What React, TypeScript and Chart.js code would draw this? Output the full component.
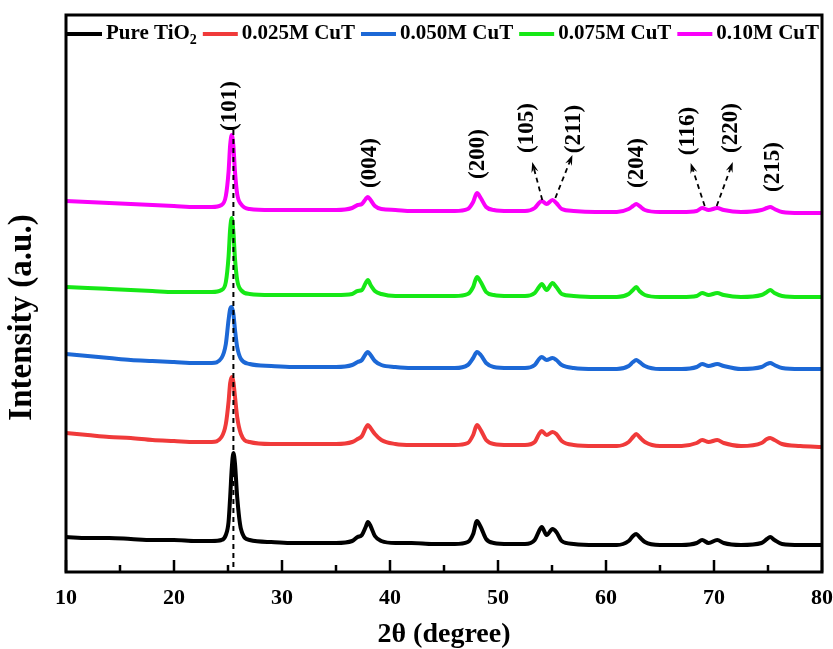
import React, { useEffect, useRef } from 'react';
import { Chart, registerables } from 'chart.js';

Chart.register(...registerables);

// ---------------- data ----------------
const TWO_THETA = [
  10, 12, 14, 16, 18, 20, 22, 23.5, 24.4, 24.8, 25.05, 25.2, 25.35, 25.5, 25.65, 25.85, 26.2, 27,
  29, 31, 33, 35, 36.5, 37.0, 37.4, 37.75, 37.95, 38.2, 38.6, 39.2, 40.5, 42, 44, 46, 47.2, 47.7,
  48.05, 48.4, 48.9, 49.6, 51, 52.5, 53.4, 53.8, 54.05, 54.5, 55.05, 55.4, 55.9, 57, 59, 61, 62.1,
  62.5, 62.8, 63.1, 63.6, 65, 67, 68.4, 68.9, 69.5, 70.3, 70.9, 72.5, 74.4, 74.9, 75.2, 75.6, 76.3,
  78, 80,
];

// offset intensities (a.u.), one value per 2θ point
const PURE_TIO2 = [
  35, 34, 34, 33, 32, 32, 31, 31, 32, 37, 50, 75, 104, 119, 108, 75, 43, 32,
  30, 29, 29, 29, 31, 35, 37, 45, 50, 46, 36, 31, 29, 29, 28, 28, 30, 38,
  51, 45, 33, 29, 28, 28, 32, 41, 45, 37, 43, 40, 31, 28, 27, 27, 31,
  36, 38, 35, 30, 27, 27, 29, 32, 29, 32, 29, 27, 29, 33, 35, 32, 28,
  27, 27,
];
const CUT_0025 = [
  139, 137, 135, 134, 132, 131, 130, 130, 135, 148, 170, 189, 195, 190, 175, 155, 138, 130,
  128, 128, 128, 128, 130, 133, 136, 144, 147, 144, 138, 132, 128, 127, 127, 127, 129, 137,
  147, 142, 132, 128, 127, 127, 130, 138, 141, 137, 140, 138, 131, 127, 126, 126, 130,
  135, 138, 135, 130, 126, 126, 129, 132, 130, 132, 129, 126, 129, 133, 134, 132, 128,
  126, 125,
];
const CUT_0050 = [
  218, 216, 214, 212, 211, 210, 209, 209, 214, 228, 252, 263, 265, 258, 242, 225, 213, 208,
  206, 205, 205, 205, 207, 210, 212, 218, 220, 217, 211, 207, 205, 204, 204, 204, 207, 214,
  220, 217, 209, 205, 204, 204, 207, 213, 215, 212, 214, 212, 207, 204, 203, 203, 206,
  210, 212, 210, 206, 203, 203, 205, 208, 206, 208, 206, 203, 205, 208, 209, 207, 204,
  203, 203,
];
const CUT_0075 = [
  285, 284, 283, 282, 281, 280, 280, 280, 282, 290, 315, 343, 354, 340, 313, 292, 282, 278,
  277, 277, 277, 277, 278, 281, 282, 289, 292, 287, 281, 278, 276, 276, 276, 276, 278, 285,
  295, 290, 280, 277, 276, 276, 279, 285, 288, 282, 289, 285, 278, 276, 275, 275, 278,
  282, 285, 281, 277, 275, 275, 276, 279, 277, 279, 277, 275, 277, 280, 282, 279, 276,
  275, 275,
];
const CUT_0100 = [
  371, 370, 369, 368, 367, 366, 365, 365, 367, 376, 400, 427, 437, 426, 400, 378, 368, 363,
  362, 362, 362, 362, 364, 367, 368, 373, 375, 372, 366, 363, 362, 361, 361, 361, 363, 370,
  379, 374, 365, 362, 361, 361, 364, 369, 371, 368, 372, 369, 363, 361, 360, 360, 363,
  366, 368, 366, 362, 360, 360, 361, 364, 362, 364, 362, 360, 362, 364, 365, 363, 360,
  359, 359,
];

const SERIES_LABELS = ['Pure TiO₂', '0.025M CuT', '0.050M CuT', '0.075M CuT', '0.10M CuT'];
const SERIES_COLORS = ['#000000', 'rgb(240,58,58)', 'rgb(28,104,214)', 'rgb(22,232,22)', 'rgb(250,0,250)'];

const X_MIN = 10;
const X_MAX = 80;
const Y_MIN = 0;
const Y_MAX = 557;
const X_MAJOR_TICKS = [10, 20, 30, 40, 50, 60, 70, 80];
const X_MINOR_TICKS = [15, 25, 35, 45, 55, 65, 75];

const X_TITLE = '2θ (degree)';
const Y_TITLE = 'Intensity (a.u.)';

// peak (hkl) annotations
const PEAK_LABELS = ['(101)', '(004)', '(200)', '(105)', '(211)', '(204)', '(116)', '(220)', '(215)'];
const PEAK_LABEL_X = [25.23, 38.13, 48.16, 52.71, 57.07, 62.83, 67.56, 71.55, 75.45];
const PEAK_LABEL_Y = [466, 409, 418, 444, 443, 409, 441, 444, 405];

// dashed arrows from peaks to labels
const ARROW_FROM_X = [54.1, 55.31, 69.14, 70.25];
const ARROW_FROM_Y = [372, 374, 366, 366];
const ARROW_TO_X = [53.17, 56.89, 67.84, 71.74];
const ARROW_TO_Y = [410, 417, 409, 410];

// dashed reference line through (101)
const REF_LINE_X = 25.5;
const REF_LINE_TOP = 442;

const FONT = "'Liberation Serif', 'Times New Roman', Times, serif";

function drawRich(ctx: CanvasRenderingContext2D, text: string, x: number, y: number, size: number) {
  const parts = text.split('₂');
  let cx = x;
  parts.forEach((p, i) => {
    ctx.font = `bold ${size}px ${FONT}`;
    ctx.fillText(p, cx, y);
    cx += ctx.measureText(p).width;
    if (i < parts.length - 1) {
      ctx.font = `bold ${Math.round(size * 0.68)}px ${FONT}`;
      ctx.fillText('2', cx, y + size * 0.3);
      cx += ctx.measureText('2').width;
    }
  });
  return cx;
}

const decorPlugin = {
  id: 'decor',
  afterDatasetsDraw(chart: any) {
    const { ctx, chartArea: ca, scales } = chart;
    const xs = scales.x;
    const ys = scales.y;
    ctx.save();

    // reference dashed line
    ctx.strokeStyle = '#000';
    ctx.lineWidth = 2;
    ctx.setLineDash([5, 4]);
    ctx.beginPath();
    ctx.moveTo(xs.getPixelForValue(REF_LINE_X), ys.getPixelForValue(REF_LINE_TOP));
    ctx.lineTo(xs.getPixelForValue(REF_LINE_X), ys.getPixelForValue(Y_MIN));
    ctx.stroke();

    // arrows
    for (let i = 0; i < ARROW_FROM_X.length; i++) {
      const x0 = xs.getPixelForValue(ARROW_FROM_X[i]);
      const y0 = ys.getPixelForValue(ARROW_FROM_Y[i]);
      const x1 = xs.getPixelForValue(ARROW_TO_X[i]);
      const y1 = ys.getPixelForValue(ARROW_TO_Y[i]);
      const ang = Math.atan2(y1 - y0, x1 - x0);
      ctx.setLineDash([5, 4]);
      ctx.lineWidth = 1.8;
      ctx.beginPath();
      ctx.moveTo(x0, y0);
      ctx.lineTo(x1 - Math.cos(ang) * 6, y1 - Math.sin(ang) * 6);
      ctx.stroke();
      ctx.setLineDash([]);
      const L = 11;
      const W = 0.33;
      ctx.beginPath();
      ctx.moveTo(x1, y1);
      ctx.lineTo(x1 - L * Math.cos(ang - W), y1 - L * Math.sin(ang - W));
      ctx.lineTo(x1 - 0.6 * L * Math.cos(ang), y1 - 0.6 * L * Math.sin(ang));
      ctx.lineTo(x1 - L * Math.cos(ang + W), y1 - L * Math.sin(ang + W));
      ctx.closePath();
      ctx.fillStyle = '#000';
      ctx.fill();
    }
    ctx.setLineDash([]);

    // peak labels (rotated)
    ctx.fillStyle = '#000';
    ctx.font = `bold 23px ${FONT}`;
    ctx.textAlign = 'center';
    ctx.textBaseline = 'middle';
    PEAK_LABELS.forEach((t, i) => {
      ctx.save();
      ctx.translate(xs.getPixelForValue(PEAK_LABEL_X[i]), ys.getPixelForValue(PEAK_LABEL_Y[i]));
      ctx.rotate(-Math.PI / 2);
      ctx.fillText(t, 0, 0);
      ctx.restore();
    });

    // inward ticks
    ctx.strokeStyle = '#000';
    ctx.lineWidth = 2.5;
    X_MAJOR_TICKS.forEach((v) => {
      const px = xs.getPixelForValue(v);
      ctx.beginPath();
      ctx.moveTo(px, ca.bottom);
      ctx.lineTo(px, ca.bottom - 12);
      ctx.stroke();
    });
    X_MINOR_TICKS.forEach((v) => {
      const px = xs.getPixelForValue(v);
      ctx.beginPath();
      ctx.moveTo(px, ca.bottom);
      ctx.lineTo(px, ca.bottom - 7);
      ctx.stroke();
    });

    // frame
    ctx.lineWidth = 3;
    ctx.strokeRect(ca.left, ca.top, ca.right - ca.left, ca.bottom - ca.top);

    // legend inside the frame
    ctx.textAlign = 'left';
    ctx.textBaseline = 'middle';
    const ly = ca.top + 19;
    let lx = ca.left + 1;
    chart.data.datasets.forEach((ds: any) => {
      ctx.strokeStyle = ds.borderColor;
      ctx.lineWidth = 4;
      ctx.beginPath();
      ctx.moveTo(lx, ly);
      ctx.lineTo(lx + 35, ly);
      ctx.stroke();
      lx += 39;
      ctx.fillStyle = '#000';
      lx = drawRich(ctx, ds.label, lx, ly, 21) + 6;
    });

    // y title
    ctx.save();
    ctx.translate(22, (ca.top + ca.bottom) / 2 + 24);
    ctx.rotate(-Math.PI / 2);
    ctx.textAlign = 'center';
    ctx.font = `bold 33px ${FONT}`;
    ctx.fillStyle = '#000';
    ctx.fillText(Y_TITLE, 0, 0);
    ctx.restore();

    ctx.restore();
  },
};

export default function App() {
  const ref = useRef<HTMLCanvasElement | null>(null);

  useEffect(() => {
    if (!ref.current) return;
    const seriesValues = [PURE_TIO2, CUT_0025, CUT_0050, CUT_0075, CUT_0100];
    const chart = new Chart(ref.current, {
      type: 'line',
      data: {
        datasets: seriesValues.map((vals, i) => ({
          label: SERIES_LABELS[i],
          data: TWO_THETA.map((x, j) => ({ x, y: vals[j] })),
          borderColor: SERIES_COLORS[i],
          backgroundColor: SERIES_COLORS[i],
          borderWidth: 4,
          pointRadius: 0,
          cubicInterpolationMode: 'monotone',
          fill: false,
        })),
      },
      options: {
        animation: false,
        responsive: false,
        maintainAspectRatio: false,
        devicePixelRatio: 1,
        layout: { padding: { left: 0, right: 11, top: 15, bottom: 0 } },
        plugins: {
          legend: { display: false },
          tooltip: { enabled: false },
        },
        scales: {
          x: {
            type: 'linear',
            min: X_MIN,
            max: X_MAX,
            grid: { display: false, drawTicks: false },
            border: { display: false },
            afterBuildTicks: (s: any) => {
              s.ticks = X_MAJOR_TICKS.map((v) => ({ value: v }));
            },
            afterFit: (s: any) => {
              s.height = 77;
              s.paddingLeft = 0;
              s.paddingRight = 0;
            },
            ticks: {
              color: '#000',
              padding: 13,
              maxRotation: 0,
              font: { family: FONT, size: 22, weight: 'bold' },
            },
            title: {
              display: true,
              text: X_TITLE,
              color: '#000',
              padding: 0,
              font: { family: FONT, size: 28, weight: 'bold', lineHeight: 1 },
            },
          },
          y: {
            type: 'linear',
            min: Y_MIN,
            max: Y_MAX,
            grid: { display: false, drawTicks: false },
            border: { display: false },
            ticks: { display: false },
            afterFit: (s: any) => {
              s.width = 66;
              s.paddingTop = 0;
              s.paddingBottom = 0;
            },
          },
        },
      } as any,
      plugins: [decorPlugin],
    });
    return () => chart.destroy();
  }, []);

  return (
    <div style={{ position: 'fixed', left: 0, top: 0, width: 833, height: 649, background: '#fff' }}>
      <canvas ref={ref} width={833} height={649} style={{ display: 'block' }} />
    </div>
  );
}
